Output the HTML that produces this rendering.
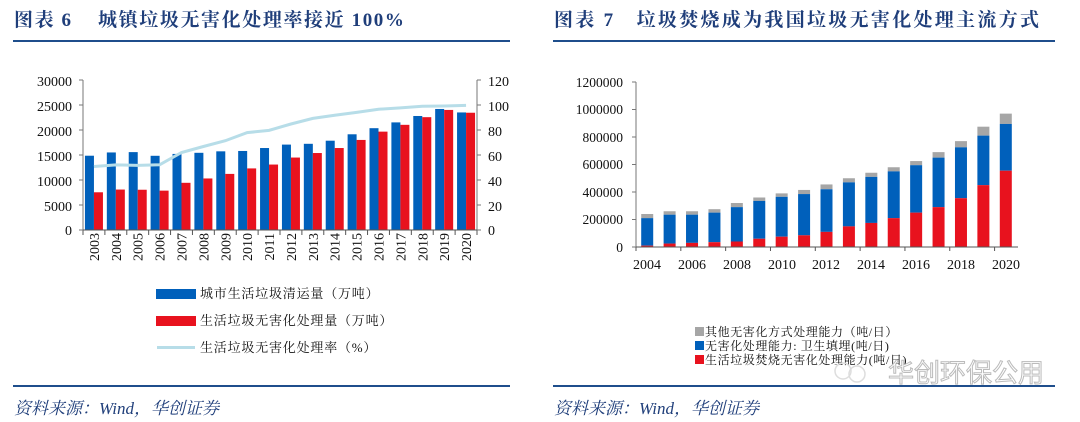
<!DOCTYPE html>
<html><head><meta charset="utf-8">
<style>
body{margin:0;background:#fff;width:1080px;height:422px;overflow:hidden}
svg{display:block}
.t{font-family:"Liberation Serif","Noto Serif CJK SC",serif;font-weight:bold;fill:#1f3e7a;font-size:19px;letter-spacing:1.6px}
.n{font-family:"Liberation Serif",serif;font-size:14px;fill:#111}
.c{font-family:"Liberation Serif","Noto Serif CJK SC",serif;font-size:13px;fill:#111}
.s{font-family:"Liberation Serif","Noto Serif CJK SC",serif;font-style:italic;font-size:17px;fill:#1f3e7a}
</style></head><body>
<svg id="s" width="1080" height="422" xmlns="http://www.w3.org/2000/svg">
<text class="t" x="14" y="26">图表 6&#160;&#160;&#160;&#160;城镇垃圾无害化处理率接近 100%</text>
<text class="t" x="554" y="26" style="letter-spacing:2.3px">图表 7&#160;&#160;&#160;垃圾焚烧成为我国垃圾无害化处理主流方式</text>
<rect x="13" y="40" width="497" height="2" fill="#1f4e8c"/>
<rect x="553" y="40" width="502" height="2" fill="#1f4e8c"/>
<rect x="13" y="385" width="497" height="2" fill="#1f4e8c"/>
<rect x="553" y="385" width="502" height="2" fill="#1f4e8c"/>
<text class="s" x="14" y="414">资料来源：Wind，华创证券</text>
<text class="s" x="554" y="414">资料来源：Wind，华创证券</text>
<g id="L"></g><g id="R"></g>
<g class="n" text-anchor="end">
<text x="72" y="86">30000</text><text x="72" y="111">25000</text><text x="72" y="136">20000</text><text x="72" y="161">15000</text><text x="72" y="186">10000</text><text x="72" y="211">5000</text><text x="72" y="235">0</text>
</g>
<g class="n">
<text x="488" y="86">120</text><text x="488" y="111">100</text><text x="488" y="136">80</text><text x="488" y="161">60</text><text x="488" y="186">40</text><text x="488" y="211">20</text><text x="488" y="235">0</text>
</g>
<g class="n" id="LX"></g>
<rect x="156" y="289" width="40" height="10" fill="#0060bb"/>
<text class="c" x="200" y="298" style="letter-spacing:0.8px">城市生活垃圾清运量（万吨）</text>
<rect x="156" y="316" width="40" height="10" fill="#e8121e"/>
<text class="c" x="200" y="325" style="letter-spacing:0.8px">生活垃圾无害化处理量（万吨）</text>
<rect x="157" y="346" width="38" height="3" fill="#b7dde8"/>
<text class="c" x="200" y="352" style="letter-spacing:0.8px">生活垃圾无害化处理率（%）</text>
<g class="n" text-anchor="end" style="font-size:13.5px">
<text x="623" y="87">1200000</text><text x="623" y="114">1000000</text><text x="623" y="142">800000</text><text x="623" y="169">600000</text><text x="623" y="197">400000</text><text x="623" y="224">200000</text><text x="623" y="252">0</text>
</g>
<g class="n" text-anchor="middle">
<text x="647" y="269">2004</text><text x="692" y="269">2006</text><text x="737" y="269">2008</text><text x="782" y="269">2010</text><text x="826" y="269">2012</text><text x="871" y="269">2014</text><text x="916" y="269">2016</text><text x="961" y="269">2018</text><text x="1006" y="269">2020</text>
</g>
<rect x="695" y="327" width="9" height="9" fill="#a6a6a6"/>
<text class="c" x="705" y="336" style="font-size:12px;letter-spacing:0.6px">其他无害化方式处理能力（吨/日）</text>
<rect x="695" y="341" width="9" height="9" fill="#0060bb"/>
<text class="c" x="705" y="350" style="font-size:12px;letter-spacing:0.6px">无害化处理能力: 卫生填埋(吨/日)</text>
<rect x="695" y="355" width="9" height="9" fill="#e8121e"/>
<text class="c" x="705" y="364" style="font-size:12px;letter-spacing:0.6px">生活垃圾焚烧无害化处理能力(吨/日)</text>
<circle cx="843" cy="371" r="8" fill="none" stroke="#ddd" stroke-width="1.5"/>
<circle cx="857" cy="374" r="8" fill="none" stroke="#ddd" stroke-width="1.5"/>
<text x="888" y="382" style="font-family:'Noto Sans CJK SC',sans-serif;font-size:26px;fill:#fff;stroke:#bbb;stroke-width:1">华创环保公用</text>
</svg>
<script>
var NS="http://www.w3.org/2000/svg";
function el(p,t,a){var e=document.createElementNS(NS,t);for(var k in a)e.setAttribute(k,a[k]);p.appendChild(e);return e;}
var L=document.getElementById('L');
var blue=[14857,15509,15577,14841,15215,15438,15734,15805,16395,17081,17239,17860,19142,20362,21521,22802,24206,23512];
var red=[7545,8089,8051,7873,9438,10307,11220,12318,13090,14490,15394,16394,18013,19674,21034,22565,24013,23452];
var rate=[50.8,52.1,51.7,52.2,62,66.8,71.4,77.9,79.7,84.8,89.3,91.8,94.1,96.6,97.7,99,99.2,99.7];
var w=(477-83)/18,pts=[];
for(var i=0;i<18;i++){var c=83+w*(i+.5);
el(L,'rect',{x:c-9,y:230-blue[i]/200,width:9,height:blue[i]/200,fill:'#0060bb'});
el(L,'rect',{x:c,y:230-red[i]/200,width:9,height:red[i]/200,fill:'#e8121e'});
pts.push(c+','+(230-rate[i]*1.25));
el(L,'line',{x1:83+w*i,x2:83+w*i,y1:230,y2:235,stroke:'#555'});
}
el(L,'line',{x1:477,x2:477,y1:230,y2:235,stroke:'#555'});
el(L,'polyline',{points:pts.join(' '),fill:'none',stroke:'#b7dde8','stroke-width':3});
el(L,'line',{x1:83,x2:83,y1:80,y2:230,stroke:'#777'});
el(L,'line',{x1:477,x2:477,y1:80,y2:230,stroke:'#777'});
el(L,'line',{x1:80,x2:480,y1:230,y2:230,stroke:'#555'});
for(var j=0;j<7;j++){var y=80+25*j;el(L,'line',{x1:79,x2:83,y1:y,y2:y,stroke:'#777'});el(L,'line',{x1:477,x2:481,y1:y,y2:y,stroke:'#777'});}
var LX=document.getElementById('LX');
for(var i=0;i<18;i++){var c=83+w*(i+.5);var t=el(LX,'text',{transform:'translate('+(c+5)+',233) rotate(-90)','text-anchor':'end'});t.textContent=2003+i;}
var R=document.getElementById('R');
var d=[[10,210,240],[25,235,260],[30,235,260],[35,250,275],[40,290,320],[60,335,360],[75,365,390],[85,385,415],[110,420,455],[150,470,500],[175,510,540],[210,550,580],[250,595,625],[290,650,690],[355,725,770],[450,810,875],[555,895,970]];
var w2=(1017-636)/17,k=165/1200;
for(var i=0;i<17;i++){var c=636+w2*(i+.5),a=d[i];
el(R,'rect',{x:c-6,y:247-a[2]*k,width:12,height:(a[2]-a[1])*k,fill:'#a6a6a6'});
el(R,'rect',{x:c-6,y:247-a[1]*k,width:12,height:(a[1]-a[0])*k,fill:'#0060bb'});
el(R,'rect',{x:c-6,y:247-a[0]*k,width:12,height:a[0]*k,fill:'#e8121e'});}
el(R,'line',{x1:636,x2:636,y1:82,y2:247,stroke:'#777'});
el(R,'line',{x1:636,x2:1018,y1:247,y2:247,stroke:'#555'});
for(var j=0;j<7;j++){var y=82+j*27.5;el(R,'line',{x1:632,x2:636,y1:y,y2:y,stroke:'#777'});}
for(var i=0;i<=17;i+=2){var x=636+w2*i;el(R,'line',{x1:x,x2:x,y1:247,y2:251,stroke:'#555'});}
</script>
</body></html>
